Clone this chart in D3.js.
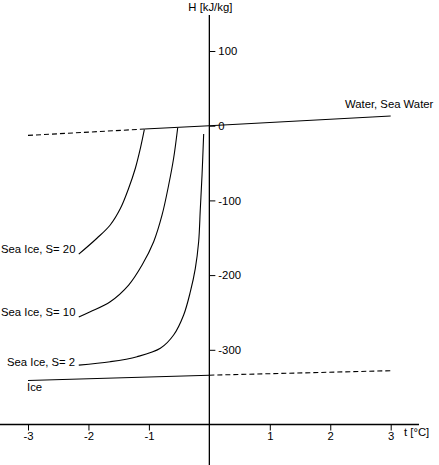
<!DOCTYPE html>
<html lang="en">
<head>
    <meta charset="UTF-8">
    <title>Enthalpy of Ice, Sea Ice and Water</title>
    <style>
        body {
            margin: 0;
            background: #fff;
        }
        svg {
            display: block;
            font-family: "Liberation Sans", Arial, sans-serif;
            font-size: 11.3px;
        }
        .axis path { display: none; }
        .axis line { stroke: #000; }
        .axis text { fill: #000; font-size: 11.3px; font-family: "Liberation Sans", Arial, sans-serif; }
    </style>
</head>
<body>
    <svg id="chart" width="439" height="465"></svg>

    <script src="https://cdn.jsdelivr.net/npm/d3@7/dist/d3.min.js"></script>
    <script>
        // Values: [t in degC, H in kJ/kg]
        const waterDashed = [[-3, -13], [-1.075, -4.5]];
        const waterSolid  = [[-1.075, -4.5], [0, 0], [3, 13]];
        const iceSolid    = [[-3, -341], [0, -334]];
        const iceDashed   = [[0, -334], [3, -328]];

        const seaIceS20 = [
            [-2.16, -172], [-1.86, -150.7], [-1.64, -132.9], [-1.47, -110.6],
            [-1.335, -83.8], [-1.224, -57], [-1.141, -30.3], [-1.075, -5]
        ];
        const seaIceS10 = [
            [-2.16, -256], [-1.97, -249], [-1.64, -235.6], [-1.335, -213.3],
            [-1.113, -186.5], [-0.921, -155.3], [-0.782, -119.5], [-0.673, -79.4],
            [-0.591, -43.6], [-0.524, -3]
        ];
        const seaIceS2 = [
            [-2.16, -320.5], [-1.64, -315.9], [-1.196, -309.2], [-0.811, -298],
            [-0.591, -280.2], [-0.425, -253.4], [-0.314, -222.2], [-0.232, -190.9],
            [-0.177, -155.3], [-0.149, -110.6], [-0.121, -66], [-0.094, -11]
        ];

        const xTicks = [-3, -2, -1, 1, 2, 3];
        const yTicks = [100, 0, -100, -200, -300];

        const svg = d3.select("#chart"),
              width = +svg.attr("width"),
              height = +svg.attr("height");

        const x = d3.scaleLinear().domain([-3, 3]).range([28, 390.7]);
        const y = d3.scaleLinear().domain([-400, 100]).range([424.5, 51]);

        const line = d3.line().x(d => x(d[0])).y(d => y(d[1]));
        const curve = d3.line().x(d => x(d[0])).y(d => y(d[1])).curve(d3.curveCatmullRom.alpha(0.5));

        // axis lines
        svg.append("line")
            .attr("x1", 0).attr("x2", 419)
            .attr("y1", y(-400)).attr("y2", y(-400))
            .attr("stroke", "#000").attr("stroke-width", 1.3);
        svg.append("line")
            .attr("x1", x(0)).attr("x2", x(0))
            .attr("y1", 15).attr("y2", height)
            .attr("stroke", "#000").attr("stroke-width", 1.3);

        // ticks
        svg.append("g")
            .attr("class", "axis")
            .attr("transform", `translate(0,${y(-400)})`)
            .call(d3.axisBottom(x).tickValues(xTicks).tickSize(6).tickPadding(1).tickFormat(d => String(d)));

        svg.append("g")
            .attr("class", "axis")
            .attr("transform", `translate(${x(0)},0)`)
            .call(d3.axisRight(y).tickValues(yTicks).tickSize(6).tickPadding(3).tickFormat(d => String(d)));

        // axis titles
        svg.append("text")
            .attr("x", x(0) + 1).attr("y", 11)
            .attr("text-anchor", "middle")
            .text("H [kJ/kg]");
        svg.append("text")
            .attr("x", 404).attr("y", 436)
            .text("t [°C]");

        // lines
        const g = svg.append("g").attr("fill", "none").attr("stroke", "#000").attr("stroke-width", 1.1);
        g.append("path").attr("d", line(waterDashed)).attr("stroke-dasharray", "5,3");
        g.append("path").attr("d", line(waterSolid));
        g.append("path").attr("d", line(iceSolid));
        g.append("path").attr("d", line(iceDashed)).attr("stroke-dasharray", "5,3");
        g.append("path").attr("d", curve(seaIceS20));
        g.append("path").attr("d", curve(seaIceS10));
        g.append("path").attr("d", curve(seaIceS2));

        // curve labels
        const labels = [
            { text: "Water, Sea Water", x: 345, y: 108 },
            { text: "Sea Ice, S= 20", x: 1, y: 253 },
            { text: "Sea Ice, S= 10", x: 1, y: 316 },
            { text: "Sea Ice, S= 2", x: 7, y: 366 },
            { text: "Ice", x: 27, y: 391 }
        ];
        svg.append("g")
            .selectAll("text")
            .data(labels)
            .join("text")
            .attr("x", d => d.x)
            .attr("y", d => d.y)
            .text(d => d.text);
    </script>
</body>
</html>
